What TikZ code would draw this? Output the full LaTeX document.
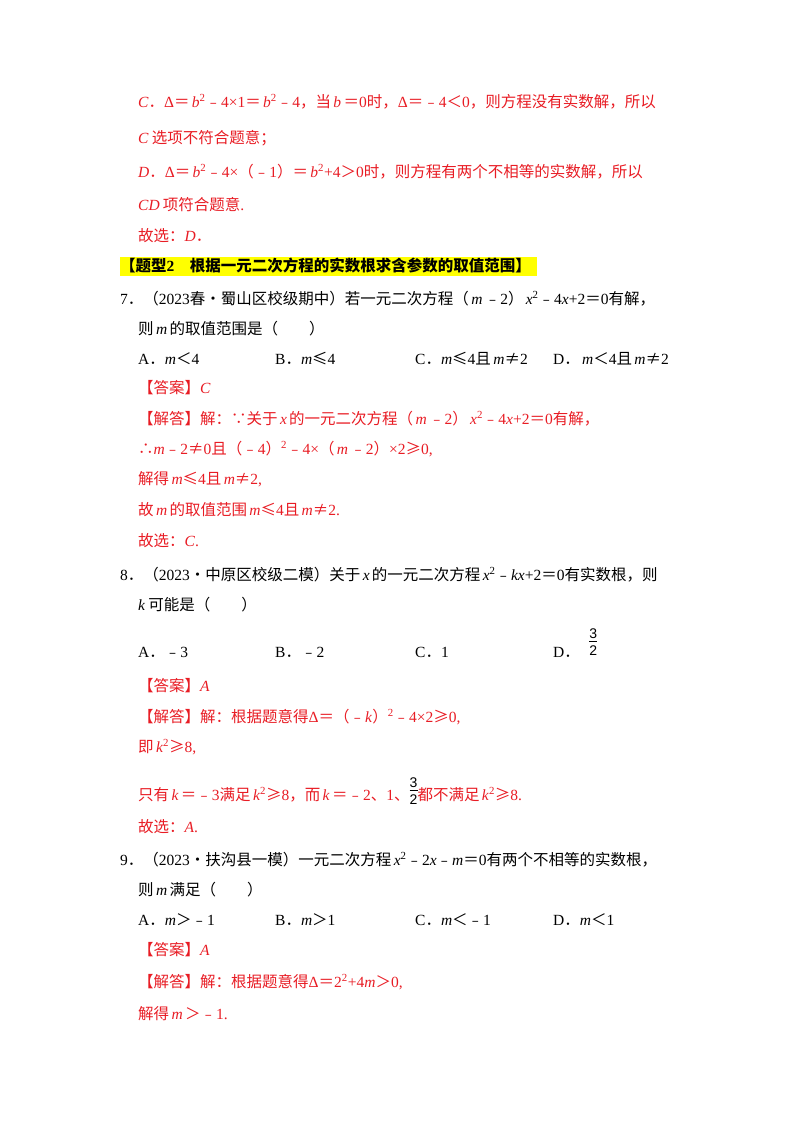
\documentclass[tikz,border=0pt]{standalone}
\usepackage{fontspec}
\setmainfont{Liberation Serif}
\newfontfamily\cjk{Noto Sans CJK SC}
\newfontfamily\frfont{Liberation Sans}
\newcommand\z[1]{{\cjk #1}}
\newcommand\vv[1]{\hspace{0.15em}\textit{#1}\hspace{0.15em}}
\newcommand\vs[1]{\hspace{0.15em}\textit{#1}}
\newcommand\fr[2]{\raisebox{-0.6ex}{\frfont\fontsize{14}{14}\selectfont\shortstack{#1\\[-1pt]\rule{8pt}{0.6pt}\\[1pt]#2}}}
\definecolor{ansred}{RGB}{232,28,36}
\definecolor{hl}{RGB}{255,255,0}
\begin{document}
\begin{tikzpicture}[x=1pt,y=-1pt,
  ln/.style={anchor=base west,inner sep=0pt,font=\fontsize{15.5}{18}\selectfont},
  rd/.style={ln,text=ansred}]
\useasboundingbox (0,0) rectangle (800,1132);
\node[rd] (a1) at (138,107) {\textit{C}\z{．}Δ\z{＝}\vs{b}\textsuperscript{2}\z{﹣}4×1\z{＝}\vs{b}\textsuperscript{2}\z{﹣}4\z{，当}\vv{b}\z{＝}0\z{时，}Δ\z{＝﹣}4\z{＜}0\z{，则方程没有实数解，所以}};
\node[rd] (a2) at (138,143) {\textit{C}\hspace{0.2em}\z{选项不符合题意；}};
\node[rd] (a3) at (138,177) {\textit{D}\z{．}Δ\z{＝}\vs{b}\textsuperscript{2}\z{﹣}4×\z{（﹣}1\z{）＝}\vs{b}\textsuperscript{2}+4\z{＞}0\z{时，则方程有两个不相等的实数解，所以}};
\node[rd] (a4) at (138,210) {\textit{CD}\hspace{0.2em}\z{项符合题意}.};
\node[rd] (a5) at (138,241) {\z{故选：}\textit{D}\z{．}};
\fill[hl] (120,257) rectangle (537,276);
\node[ln,font=\fontsize{15.5}{18}\selectfont\bfseries] (h) at (120,271) {\z{\bfseries【题型}2\z{\bfseries　根据一元二次方程的实数根求含参数的取值范围】}};
\node[ln] (q7) at (120,304) {7\z{．（}2023\z{春•蜀山区校级期中）若一元二次方程（}\vv{m}\z{﹣}2\z{）}\vs{x}\textsuperscript{2}\z{﹣}4\textit{x}+2\z{＝}0\z{有解，}};
\node[ln] (q7b) at (138,334) {\z{则}\vv{m}\z{的取值范围是（　　）}};
\node[ln] (o7a) at (138,364) {A\z{．}\textit{m}\z{＜}4};
\node[ln] (o7b) at (275,364) {B\z{．}\textit{m}\z{≤}4};
\node[ln] (o7c) at (415,364) {C\z{．}\textit{m}\z{≤}4\z{且}\vs{m}\z{≠}2};
\node[ln] (o7d) at (553,364) {D\z{．}\vs{m}\z{＜}4\z{且}\vs{m}\z{≠}2};
\node[rd] (k7) at (138,393) {\z{【答案】}\textit{C}};
\node[rd] (s7a) at (138,424) {\z{【解答】解：∵关于}\vv{x}\z{的一元二次方程（}\vv{m}\z{﹣}2\z{）}\vs{x}\textsuperscript{2}\z{﹣}4\textit{x}+2\z{＝}0\z{有解，}};
\node[rd] (s7b) at (138,454) {\z{∴}\textit{m}\z{﹣}2\z{≠}0\z{且（﹣}4\z{）}\textsuperscript{2}\z{﹣}4×\z{（}\vv{m}\z{﹣}2\z{）}×2\z{≥}0,};
\node[rd] (s7c) at (138,484) {\z{解得}\vs{m}\z{≤}4\z{且}\vs{m}\z{≠}2,};
\node[rd] (s7d) at (138,515) {\z{故}\vv{m}\z{的取值范围}\vs{m}\z{≤}4\z{且}\vs{m}\z{≠}2.};
\node[rd] (s7e) at (138,546) {\z{故选：}\textit{C}.};
\node[ln] (q8) at (120,580) {8\z{．（}2023\z{•中原区校级二模）关于}\vv{x}\z{的一元二次方程}\vs{x}\textsuperscript{2}\z{﹣}\textit{kx}+2\z{＝}0\z{有实数根，则}};
\node[ln] (q8b) at (138,610) {\textit{k}\hspace{0.2em}\z{可能是（　　）}};
\node[ln] (o8a) at (138,657) {A\z{．﹣}3};
\node[ln] (o8b) at (275,657) {B\z{．﹣}2};
\node[ln] (o8c) at (415,657) {C\z{．}1};
\node[ln] (o8d) at (553,657) {D\z{．}\hspace{0.6em}\raisebox{6pt}{\fr{3}{2}}};
\node[rd] (k8) at (138,691) {\z{【答案】}\textit{A}};
\node[rd] (s8a) at (138,722) {\z{【解答】解：根据题意得}Δ\z{＝（﹣}\textit{k}\z{）}\textsuperscript{2}\z{﹣}4×2\z{≥}0,};
\node[rd] (s8b) at (138,752) {\z{即}\vs{k}\textsuperscript{2}\z{≥}8,};
\node[rd] (s8c) at (138,800) {\z{只有}\vv{k}\z{＝﹣}3\z{满足}\vs{k}\textsuperscript{2}\z{≥}8\z{，而}\vv{k}\z{＝﹣}2\z{、}1\z{、}\textcolor{black}{\fr{3}{2}}\z{都不满足}\vs{k}\textsuperscript{2}\z{≥}8.};
\node[rd] (s8d) at (138,832) {\z{故选：}\textit{A}.};
\node[ln] (q9) at (120,865) {9\z{．（}2023\z{•扶沟县一模）一元二次方程}\vs{x}\textsuperscript{2}\z{﹣}2\textit{x}\z{﹣}\textit{m}\z{＝}0\z{有两个不相等的实数根，}};
\node[ln] (q9b) at (138,895) {\z{则}\vv{m}\z{满足（　　）}};
\node[ln] (o9a) at (138,925) {A\z{．}\textit{m}\z{＞﹣}1};
\node[ln] (o9b) at (275,925) {B\z{．}\textit{m}\z{＞}1};
\node[ln] (o9c) at (415,925) {C\z{．}\textit{m}\z{＜﹣}1};
\node[ln] (o9d) at (553,925) {D\z{．}\textit{m}\z{＜}1};
\node[rd] (k9) at (138,955) {\z{【答案】}\textit{A}};
\node[rd] (s9a) at (138,987) {\z{【解答】解：根据题意得}Δ\z{＝}2\textsuperscript{2}+4\textit{m}\z{＞}0,};
\node[rd] (s9b) at (138,1019) {\z{解得}\vv{m}\z{＞﹣}1.};
\end{tikzpicture}
\end{document}
